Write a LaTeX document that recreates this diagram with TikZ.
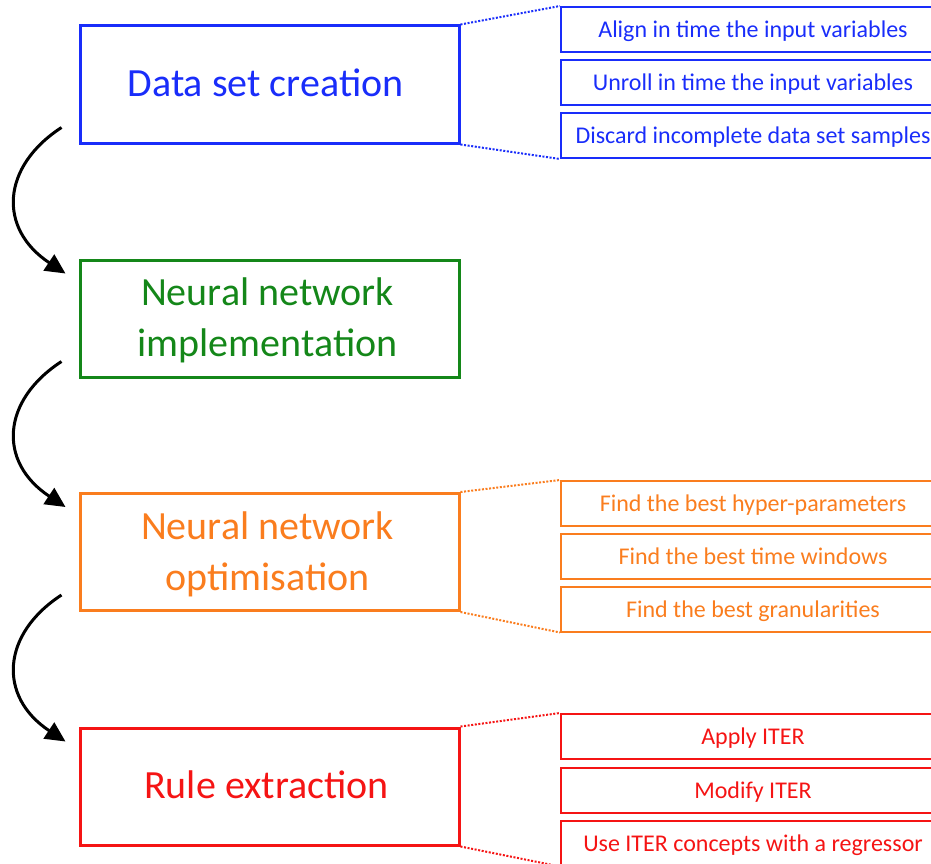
\documentclass[tikz,border=0pt]{standalone}
\usepackage{fontspec}
\setmainfont{Carlito}
\usetikzlibrary{arrows.meta,calc}

\definecolor{cblue}{RGB}{25,45,250}
\definecolor{cgreen}{RGB}{20,135,25}
\definecolor{corange}{RGB}{250,125,30}
\definecolor{cred}{RGB}{245,20,20}

\tikzset{
  stagebox/.style={draw=#1, text=#1, line width=3pt, minimum width=379pt,
    minimum height=117pt, align=center, inner sep=0pt, text depth=0pt,
    font=\fontsize{40}{51}\selectfont},
  stagetext/.style={text=#1, align=center, inner sep=0pt, text depth=0pt,
    font=\fontsize{40}{51}\selectfont},
  taskbox/.style={draw=#1, text=#1, line width=2pt, minimum width=384pt,
    minimum height=45pt, inner sep=0pt, text depth=0pt,
    font=\fontsize{24}{28}\selectfont},
  zoomline/.style={draw=#1, line width=2pt, dash pattern=on 2pt off 1.6pt},
  flow/.style={line width=3pt, -{Triangle[length=20pt,width=19pt]}},
}

\begin{document}
\begin{tikzpicture}[x=1pt,y=-1pt]
\useasboundingbox (0,0) rectangle (931,864);
\clip (0,0) rectangle (931,864);

% main stages (frames, then their labels set slightly left and up)
\node[stagebox=cblue]   (data) at (269.5,84.5)  {};
\node[stagebox=cgreen]  (impl) at (269.5,318.5) {};
\node[stagebox=corange] (opt)  at (269.5,552)   {};
\node[stagebox=cred]    (rule) at (269.5,786.5) {};
\node[stagetext=cblue]   (datat) at ($(data)+(-4,-2)$) {Data set creation};
\node[stagetext=cgreen]  (implt) at ($(impl)+(-2,-1)$) {Neural network\\implementation};
\node[stagetext=corange] (optt)  at ($(opt)+(-2,-1)$)  {Neural network\\optimisation};
\node[stagetext=cred]    (rulet) at ($(rule)+(-3,-2)$) {Rule extraction};

% sub-tasks of the data set creation
\node[taskbox=cblue] (d1) at (753,29.5)  {Align in time the input variables};
\node[taskbox=cblue] (d2) at (753,82.5)  {Unroll in time the input variables};
\node[taskbox=cblue] (d3) at (753,135.5) {Discard incomplete data set samples};

% sub-tasks of the optimisation
\node[taskbox=corange] (o1) at (753,503.5) {Find the best hyper-parameters};
\node[taskbox=corange] (o2) at (753,556)   {Find the best time windows};
\node[taskbox=corange] (o3) at (753,609)   {Find the best granularities};

% sub-tasks of the rule extraction
\node[taskbox=cred] (r1) at (753,736.5) {Apply ITER};
\node[taskbox=cred] (r2) at (753,790)   {Modify ITER};
\node[taskbox=cred] (r3) at (753,843)   {Use ITER concepts with a regressor};

% dotted zoom lines
\draw[zoomline=cblue] (data.north east) -- (d1.north west);
\draw[zoomline=cblue] (data.south east) -- (d3.south west);
\draw[zoomline=corange] (opt.north east) -- (o1.north west);
\draw[zoomline=corange] (opt.south east) -- (o3.south west);
\draw[zoomline=cred] (rule.north east) -- (r1.north west);
\draw[zoomline=cred] (rule.south east) -- (r3.south west);

% curved arrows between the stages
\coordinate (a1s) at ($(data.south west)+(-17,-17)$);
\coordinate (a1e) at ($(impl.north west)+(-13,15)$);
\coordinate (a2s) at ($(impl.south west)+(-17,-17)$);
\coordinate (a2e) at ($(opt.north west)+(-13,15)$);
\coordinate (a3s) at ($(opt.south west)+(-17,-17)$);
\coordinate (a3e) at ($(rule.north west)+(-13,15)$);
\draw[flow] (a1s) .. controls ($(a1s)+(-60,39)$) and ($(a1e)+(-68,-45)$) .. (a1e);
\draw[flow] (a2s) .. controls ($(a2s)+(-60,39)$) and ($(a2e)+(-68,-45)$) .. (a2e);
\draw[flow] (a3s) .. controls ($(a3s)+(-60,39)$) and ($(a3e)+(-68,-45)$) .. (a3e);
\end{tikzpicture}
\end{document}
